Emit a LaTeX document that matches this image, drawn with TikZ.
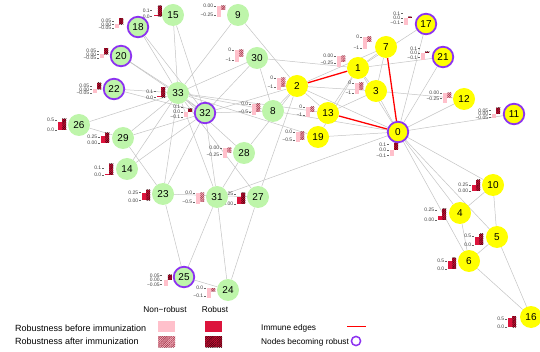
\documentclass[tikz,border=0pt]{standalone}
\usepackage{fontspec}
\setmainfont{Liberation Sans}
\usepackage{tikz}
\usetikzlibrary{patterns.meta}
\definecolor{nodeyellow}{RGB}{255,255,0}
\definecolor{nodegreen}{RGB}{190,245,170}
\definecolor{ringpurple}{RGB}{140,50,240}
\definecolor{edgegray}{RGB}{195,195,195}
\definecolor{barpink}{RGB}{255,192,203}
\definecolor{barcrimson}{RGB}{220,20,60}
\definecolor{hatchred}{RGB}{150,40,60}
\definecolor{hatchdark}{RGB}{60,0,10}
\definecolor{immunered}{RGB}{255,0,0}
\tikzstyle{vtx} = [circle, minimum size=22pt, inner sep=0pt, font=\fontsize{10}{12}\selectfont]
\tikzstyle{comA} = [vtx, fill=nodeyellow]
\tikzstyle{comB} = [vtx, fill=nodegreen]
\tikzstyle{robring} = [draw=ringpurple, line width=1.8pt, minimum size=20.5pt]
\tikzstyle{link} = [draw=edgegray, line width=0.5pt]
\tikzstyle{immune} = [draw=immunered, line width=1.3pt]
\tikzstyle{ticklab} = [anchor=east, inner sep=0pt, font=\fontsize{5}{5}\selectfont, text=black!75]
\tikzstyle{tickmark} = [draw=black!60, line width=0.3pt]
\tikzstyle{nonrob} = [fill=barpink]
\tikzstyle{rob} = [fill=barcrimson]
\tikzstyle{nonrobafter} = [fill=barpink, postaction={pattern={Lines[angle=45,distance=1.3pt,line width=0.5pt]}, pattern color=hatchred}]
\tikzstyle{robafter} = [fill=barcrimson, postaction={pattern={Lines[angle=45,distance=1.3pt,line width=0.5pt]}, pattern color=hatchdark}]
\tikzstyle{legtext} = [inner sep=0pt, font=\fontsize{8.3}{10}\selectfont]

\pgfdeclarelayer{edgelayer}
\pgfdeclarelayer{chartlayer}
\pgfsetlayers{edgelayer,chartlayer,main}

% chart that stays below zero: id, x, y, top, bottom, gap, before, after
\newcommand{\negchart}[8]{%
  \node[ticklab] (c#1a) at ({#2-3.6},#3) {#4};
  \node[ticklab] (c#1b) at ({#2-3.6},{#3+#6}) {#5};
  \draw[tickmark] ({#2-3.2},#3) -- ({#2-1.2},#3);
  \draw[tickmark] ({#2-3.2},{#3+#6}) -- ({#2-1.2},{#3+#6});
  \fill[nonrob] (#2,#3) rectangle ({#2+4},{#3+#7});
  \fill[nonrobafter] ({#2+4.3},#3) rectangle ({#2+8.3},{#3+#8});
}
% chart that stays above zero
\newcommand{\poschart}[8]{%
  \node[ticklab] (c#1a) at ({#2-3.6},{#3-#6}) {#4};
  \node[ticklab] (c#1b) at ({#2-3.6},#3) {#5};
  \draw[tickmark] ({#2-3.2},{#3-#6}) -- ({#2-1.2},{#3-#6});
  \draw[tickmark] ({#2-3.2},#3) -- ({#2-1.2},#3);
  \fill[rob] (#2,#3) rectangle ({#2+4},{#3-#7});
  \fill[robafter] ({#2+4.3},#3) rectangle ({#2+8.3},{#3-#8});
}
% chart going from below zero to above zero
\newcommand{\flipchart}[9]{%
  \node[ticklab] (c#1a) at ({#2-3.6},{#3-#7}) {#4};
  \node[ticklab] (c#1b) at ({#2-3.6},#3) {#5};
  \node[ticklab] (c#1c) at ({#2-3.6},{#3+#7}) {#6};
  \foreach \t in {-#7,0,#7}
    \draw[tickmark] ({#2-3.2},{#3+\t}) -- ({#2-1.2},{#3+\t});
  \fill[nonrob] (#2,#3) rectangle ({#2+4},{#3+#8});
  \fill[robafter] ({#2+4.3},#3) rectangle ({#2+8.3},{#3-#9});
}

\begin{document}
\begin{tikzpicture}[x=1pt,y=-1pt]
\useasboundingbox (0,0) rectangle (540,352);

% Nodes
\node[comA, robring] (n0) at (398,132) {0};
\node[comA] (n1) at (358,68) {1};
\node[comA] (n2) at (297,86) {2};
\node[comA] (n3) at (376,91) {3};
\node[comA] (n4) at (460,213) {4};
\node[comA] (n5) at (497,237) {5};
\node[comA] (n6) at (469,261) {6};
\node[comA] (n7) at (386,47) {7};
\node[comB] (n8) at (273,111) {8};
\node[comB] (n9) at (238,15) {9};
\node[comA] (n10) at (493,185) {10};
\node[comA, robring] (n11) at (514,114) {11};
\node[comA] (n12) at (464,99) {12};
\node[comA] (n13) at (328,113) {13};
\node[comB] (n14) at (127,169) {14};
\node[comB] (n15) at (173,15) {15};
\node[comA] (n16) at (531,317) {16};
\node[comA, robring] (n17) at (426,24) {17};
\node[comB, robring] (n18) at (138,27) {18};
\node[comA] (n19) at (318,137) {19};
\node[comB, robring] (n20) at (121,56) {20};
\node[comA, robring] (n21) at (443,57) {21};
\node[comB, robring] (n22) at (114,89) {22};
\node[comB] (n23) at (163,194) {23};
\node[comB] (n24) at (228,290) {24};
\node[comB, robring] (n25) at (184,277) {25};
\node[comB] (n26) at (79,125) {26};
\node[comB] (n27) at (258,197) {27};
\node[comB] (n28) at (244,153) {28};
\node[comB] (n29) at (123,138) {29};
\node[comB] (n30) at (257,58) {30};
\node[comB] (n31) at (217,197) {31};
\node[comB, robring] (n32) at (205,113) {32};
\node[comB] (n33) at (178,93) {33};

% Edges
\begin{pgfonlayer}{edgelayer}
\foreach \a/\b in {0/1,0/2,0/3,0/4,0/5,0/6,0/8,0/10,0/11,0/12,0/17,0/19,0/21,0/31,
  1/3,1/7,1/13,1/17,1/19,1/21,1/30,2/3,2/7,2/8,2/9,2/13,2/27,2/28,2/32,
  3/7,3/12,3/13,4/6,4/10,5/6,5/10,5/16,6/16,8/30,8/32,8/33,9/33,13/33,
  14/32,14/33,15/32,15/33,18/32,18/33,19/33,20/32,20/33,22/32,22/33,
  23/25,23/27,23/29,23/32,23/33,24/25,24/27,24/31,25/31,26/29,26/33,27/33,
  28/31,28/33,29/32,29/33,30/32,30/33,31/32,31/33,32/33}
  \draw[link] (n\a) -- (n\b);
\draw[immune] (n1) -- (n2);
\draw[immune] (n0) -- (n7);
\draw[immune] (n0) -- (n13);
\end{pgfonlayer}

% Robustness charts
\begin{pgfonlayer}{chartlayer}
\negchart{9}{217}{6}{0.00}{−0.25}{9}{11}{4}
\negchart{30}{235}{50}{0}{−1}{10}{12}{7}
\negchart{2}{277}{78}{0}{−1}{9}{12}{9}
\negchart{8}{252}{104}{0.0}{−0.5}{8}{11}{8}
\negchart{1}{337}{56}{0.00}{−0.25}{7}{11}{6}
\negchart{7}{363}{37}{0}{−1}{11}{12}{5}
\negchart{3}{355}{83}{0}{−1}{10}{11}{7}
\negchart{13}{306}{107}{0}{−1}{8}{10}{5}
\negchart{19}{296}{132}{0.0}{−0.5}{8}{10}{8}
\negchart{12}{443}{93}{0.00}{−0.25}{5.5}{10}{5}
\negchart{28}{223}{148}{0.00}{−0.25}{6.5}{10}{4.5}
\negchart{31}{196}{193}{0.0}{−0.5}{9}{11}{9}
\negchart{24}{207}{288}{0.0}{−0.1}{8}{10}{3}
\poschart{26}{58}{130}{0.5}{0.0}{10}{8}{11}
\poschart{29}{101}{143}{0.25}{0.00}{6}{7}{10}
\poschart{14}{105}{175}{0.1}{0.0}{7}{1.2}{11}
\poschart{23}{142}{200.5}{0.25}{0.00}{8}{7}{10.5}
\poschart{27}{237}{204}{0.25}{0.00}{10}{7}{11}
\poschart{10}{472}{191}{0.25}{0.00}{6}{6}{11}
\poschart{4}{438}{220}{0.25}{0.00}{10}{4}{11}
\poschart{5}{475}{245}{0.5}{0.0}{9}{8}{11}
\poschart{6}{448}{269}{0.5}{0.0}{8}{8}{11}
\poschart{16}{508}{327}{0.5}{0.0}{8}{9}{11}
\poschart{15}{153.5}{16.5}{0.1}{0.0}{6}{1.5}{10.5}
\poschart{33}{157}{97.5}{0.1}{0.0}{6}{1.5}{10}
\flipchart{18}{115}{24.5}{0.05}{0.00}{−0.05}{3.7}{4}{6}
\flipchart{20}{100}{54.5}{0.05}{0.00}{−0.05}{3.7}{3.5}{6}
\flipchart{22}{93}{89.5}{0.05}{0.00}{−0.05}{3.7}{3.5}{6.5}
\flipchart{11}{492}{114}{0.05}{0.00}{−0.05}{3.5}{4.5}{6}
\flipchart{25}{163.5}{280}{0.05}{0.00}{−0.05}{4.5}{6}{5}
\flipchart{32}{184}{112}{0.1}{0.0}{−0.1}{5}{5}{3}
\flipchart{0}{390}{150}{0.1}{0.0}{−0.1}{5.5}{6}{7}
\flipchart{17}{404}{18}{0.1}{0.0}{−0.1}{4.5}{7}{1}
\flipchart{21}{421}{53}{0.1}{0.0}{−0.1}{4.5}{7}{1}
\end{pgfonlayer}

% Legend
\node[legtext] (lnon) at (165,310) {Non−robust};
\node[legtext] (lrob) at (215,310) {Robust};
\node[legtext, anchor=west, font=\fontsize{9}{10}\selectfont] (lbefore) at (15,328) {Robustness before immunization};
\node[legtext, anchor=west, font=\fontsize{9}{10}\selectfont] (lafter) at (15,341) {Robustness after immunization};
\fill[nonrob] (158,321) rectangle (175,332);
\fill[rob] (205,321) rectangle (222,332);
\fill[nonrobafter] (158,336) rectangle (175,347);
\fill[robafter] (205,336) rectangle (222,347);
\node[legtext, anchor=west] (limmune) at (261,328) {Immune edges};
\draw[immune, line width=0.9pt] (347,326) -- (366,326);
\node[legtext, anchor=west] (lbecome) at (261,342) {Nodes becoming robust};
\draw[draw=ringpurple, line width=1.5pt] (356,341) circle (4.6);
\end{tikzpicture}
\end{document}
